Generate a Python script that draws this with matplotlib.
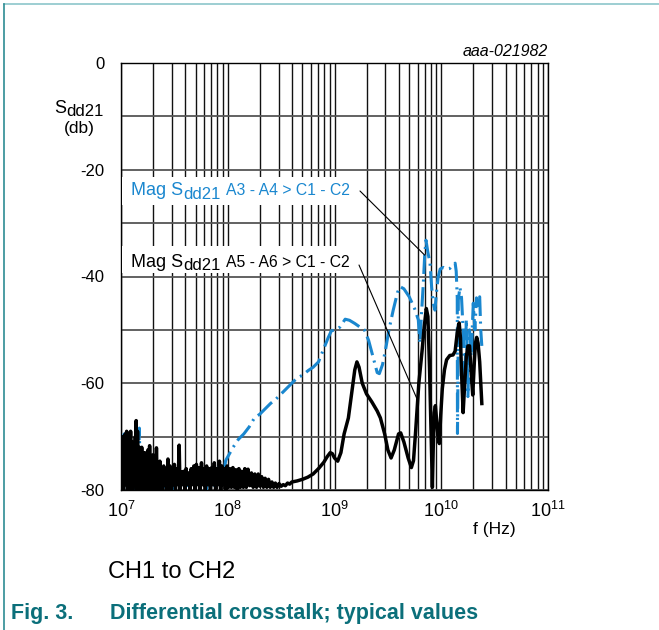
import matplotlib
matplotlib.use("Agg")
import matplotlib.pyplot as plt
import numpy as np
from matplotlib.patches import Rectangle, ConnectionPatch
from matplotlib.ticker import LogLocator, FixedLocator, LogFormatterSciNotation, NullFormatter

plt.rcParams['font.family'] = ['Liberation Sans', 'DejaVu Sans']
plt.rcParams['mathtext.fontset'] = 'custom'
plt.rcParams['mathtext.rm'] = 'Liberation Sans'
plt.rcParams['axes.unicode_minus'] = False
plt.rcParams['lines.scale_dashes'] = False

W, H = 659, 630
TEAL = '#0b6f7a'
BLUE = '#1a87cf'

# ---- data (log10 of frequency in Hz, dB) ----
# A5 - A6 > C1 - C2 (black, solid)
black_logf = [
    7.000, 7.004, 7.008, 7.014, 7.020, 7.027, 7.033, 7.040, 7.046, 7.053,
    7.060, 7.066, 7.072, 7.078, 7.084, 7.090, 7.096, 7.103, 7.110, 7.120,
    7.128, 7.134, 7.138, 7.142, 7.148, 7.155, 7.161, 7.168, 7.175, 7.182,
    7.188, 7.194, 7.200, 7.208, 7.215, 7.222, 7.230, 7.237, 7.244, 7.252,
    7.260, 7.268, 7.276, 7.284, 7.292, 7.300, 7.308, 7.316, 7.324, 7.332,
    7.340, 7.348, 7.356, 7.364, 7.372, 7.380, 7.390, 7.400, 7.410, 7.420,
    7.430, 7.440, 7.450, 7.460, 7.470, 7.480, 7.490, 7.500, 7.510, 7.522,
    7.534, 7.545, 7.553, 7.562, 7.574, 7.586, 7.598, 7.610, 7.622, 7.634,
    7.646, 7.658, 7.670, 7.682, 7.694, 7.706, 7.718, 7.730, 7.742, 7.754,
    7.766, 7.778, 7.790, 7.802, 7.814, 7.826, 7.838, 7.850, 7.862, 7.874,
    7.886, 7.898, 7.910, 7.922, 7.934, 7.946, 7.958, 7.970, 7.982, 7.994,
    8.006, 8.020, 8.034, 8.048, 8.062, 8.076, 8.090, 8.104, 8.118, 8.132,
    8.146, 8.160, 8.174, 8.190, 8.206, 8.222, 8.238, 8.254, 8.270, 8.286,
    8.302, 8.318, 8.334, 8.350, 8.366, 8.382, 8.398, 8.414, 8.430, 8.446,
    8.462, 8.480, 8.500, 8.520, 8.540, 8.560, 8.580, 8.600,
    8.65, 8.70, 8.75, 8.80, 8.85, 8.90, 8.93, 8.96, 8.98, 9.00,
    9.03, 9.06, 9.09, 9.11, 9.13, 9.16, 9.19, 9.21, 9.23, 9.26,
    9.30, 9.35, 9.40, 9.43, 9.47, 9.50, 9.53, 9.56, 9.60, 9.62,
    9.65, 9.69, 9.72, 9.74, 9.76, 9.79, 9.82, 9.84, 9.86, 9.875,
    9.89, 9.905, 9.917, 9.925, 9.935, 9.945, 9.955, 9.97, 9.982, 9.995,
    10.01, 10.03, 10.05, 10.08, 10.11, 10.13, 10.15, 10.168, 10.18, 10.19,
    10.205, 10.22, 10.235, 10.25, 10.265, 10.28, 10.295, 10.31, 10.32, 10.332,
    10.345, 10.36, 10.38,
]
black_db = [
    -80, -70, -79, -71, -80, -70, -78, -69.5, -79, -69,
    -80, -70, -78, -72, -80, -69, -79, -71, -80, -73,
    -78, -70, -79, -67, -80, -69, -78, -72, -80, -73,
    -79, -72, -80, -74, -79, -73, -80, -73.5, -79, -72.5,
    -80, -71.7, -79, -74, -80, -73.4, -79, -74.5, -80, -72.1,
    -79, -75, -80, -74.6, -79, -76, -80, -75.5, -79, -76,
    -80, -74.2, -79, -75.5, -80, -76, -79, -75.2, -80, -76,
    -79, -71.6, -80, -76.6, -79, -76.5, -80, -76, -79, -76.8,
    -80, -76, -79, -75.5, -80, -75.2, -79, -75.8, -80, -74.9,
    -79, -76, -80, -75.5, -79, -76, -80, -75.8, -79, -74.9,
    -80, -76, -79, -74.6, -80, -75.5, -79, -76, -80, -75.5,
    -79.5, -76, -79.5, -75.8, -79.5, -76.2, -80, -76, -79.5, -76.5,
    -79.5, -76, -79.5, -76.1, -79.2, -76.8, -79.5, -77, -79.5, -77,
    -79.3, -77.5, -79.5, -77.8, -79.5, -78, -79.5, -78.5, -79.5, -78.7,
    -79.5, -78.8, -79.3, -79, -79.2, -78.7, -78.9, -78.5,
    -78.3, -78.0, -77.6, -77.0, -76.0, -74.8, -73.8, -73.0, -73.2, -74.0,
    -74.6, -73.0, -69.5, -68.0, -66.5, -62.0, -57.5, -56.0, -57.0, -60.0,
    -62.0, -63.5, -65.2, -66.5, -69.5, -72.5, -74.0, -72.5, -69.5, -69.3,
    -71.0, -74.0, -75.8, -74.5, -69.0, -60.0, -54.0, -49.5, -46.0, -47.5,
    -57.0, -70.0, -79.5, -72.0, -65.5, -64.2, -66.5, -70.0, -71.3, -66.0,
    -61.0, -57.5, -55.6, -54.8, -54.7, -54.0, -50.5, -48.7, -51.5, -58.0,
    -65.5, -60.0, -55.0, -53.0, -53.0, -58.0, -62.2, -56.0, -52.5, -51.4,
    -52.5, -56.0, -63.8,
]

# A3 - A4 > C1 - C2 (blue, dash-dot)
blue_logf = [
    7.000, 7.003, 7.008, 7.015, 7.022, 7.030, 7.040, 7.050, 7.060, 7.075,
    7.090, 7.105, 7.120, 7.140, 7.160, 7.172, 7.180, 7.195, 7.210, 7.240,
    7.270, 7.300, 7.330, 7.360, 7.400, 7.440, 7.480, 7.520, 7.560, 7.600,
    7.640, 7.680, 7.720, 7.760, 7.800, 7.840, 7.880, 7.920, 7.950, 7.970,
    7.98, 8.05, 8.10, 8.15, 8.20, 8.25, 8.30, 8.35, 8.40, 8.45,
    8.50, 8.55, 8.60, 8.65, 8.70, 8.755, 8.80, 8.85, 8.88, 8.91,
    8.94, 8.97, 9.00, 9.05, 9.10, 9.14, 9.19, 9.24, 9.28, 9.32,
    9.36, 9.40, 9.42, 9.45, 9.48, 9.51, 9.55, 9.59, 9.614, 9.65,
    9.70, 9.75, 9.785, 9.80, 9.815, 9.832, 9.845, 9.857, 9.875, 9.895,
    9.91, 9.925, 9.941, 9.955, 9.972, 9.99, 10.02, 10.05, 10.08, 10.10,
    10.13, 10.14, 10.15, 10.152, 10.156, 10.16, 10.175, 10.19, 10.205, 10.22,
    10.235, 10.25, 10.265, 10.28, 10.30, 10.315, 10.33, 10.345, 10.36, 10.37,
    10.38,
]
blue_db = [
    -80, -70, -78, -70, -79, -69.5, -78, -70, -80, -72,
    -79, -72, -80, -70, -79, -68.4, -79, -73, -80, -74,
    -79, -75, -80, -76, -79.5, -75, -80, -76, -79.5, -76.5,
    -80, -76, -79.5, -75.5, -80, -76, -79.5, -75.5, -78, -76,
    -74.5, -72.0, -70.5, -69.5, -68.2, -66.5, -65.8, -64.8, -63.8, -63.0,
    -62.0, -61.0, -60.0, -59.0, -58.5, -57.6, -57.0, -56.0, -54.5, -53.0,
    -51.5, -50.2, -50.0, -49.5, -48.0, -48.2, -48.8, -49.5, -50.0, -52.0,
    -55.0, -58.0, -58.2, -56.5, -53.5, -50.0, -46.3, -43.0, -41.9, -42.3,
    -43.8, -46.0, -48.1, -52.5, -47.0, -41.3, -36.0, -33.2, -35.5, -37.5,
    -42.0, -45.0, -46.3, -43.0, -40.0, -38.6, -38.3, -38.6, -38.5, -38.0,
    -37.5, -39.0, -44.0, -69.4, -60.0, -44.4, -42.0, -44.0, -50.0, -60.0,
    -48.0, -62.5, -50.0, -55.0, -45.0, -50.0, -44.0, -46.0, -43.8, -50.0,
    -53.0,
]

y_major = [0, -20, -40, -60, -80]
y_minor = [-10, -30, -50, -70]

fig = plt.figure(figsize=(W / 100, H / 100), dpi=100)
ax = fig.add_axes([121 / W, (H - 490) / H, 427 / W, 427 / H])

ax.plot(10 ** np.array(blue_logf), blue_db, color=BLUE, lw=2.2,
        dashes=(14, 4, 1.5, 4), zorder=3)
ax.plot(10 ** np.array(black_logf), black_db, color='black', lw=2.5, zorder=4)

ax.set_xscale('log')
ax.set_xlim(1e7, 1e11)
ax.set_ylim(-80, 0)
ax.xaxis.set_major_locator(LogLocator(base=10, numticks=10))
ax.xaxis.set_minor_locator(LogLocator(base=10, subs=np.arange(2, 10), numticks=50))
ax.xaxis.set_major_formatter(LogFormatterSciNotation())
ax.xaxis.set_minor_formatter(NullFormatter())
ax.yaxis.set_major_locator(FixedLocator(y_major))
ax.yaxis.set_minor_locator(FixedLocator(y_minor))
ax.grid(which='both', axis='x', color='#111111', lw=1.0)
ax.grid(which='both', axis='y', color='#555555', lw=1.3)
ax.set_axisbelow(True)
ax.tick_params(which='both', length=0)
ax.tick_params(axis='y', pad=12, labelsize=12)
ax.tick_params(axis='x', pad=8, labelsize=13)
for s in ax.spines.values():
    s.set_color('black')
    s.set_linewidth(1.0)

renderer = fig.canvas.get_renderer()


def fx(px):
    return px / W


def fy(py):
    return 1 - py / H


def runs(x, y, parts, color):
    # draw text pieces side by side; parts = (text, size, dy_px, gap_px)
    for s, size, dy, gap in parts:
        x += gap
        t = fig.text(fx(x), fy(y + dy), s, fontsize=size, color=color,
                     ha='left', va='baseline', zorder=6)
        x += t.get_window_extent(renderer).width
    return x


# white boxes behind the curve labels
fig.add_artist(Rectangle((fx(122), fy(205)), (366 - 122) / W, 28 / H,
                         transform=fig.transFigure, fc='white', ec='none', zorder=5))
fig.add_artist(Rectangle((fx(122), fy(273)), (366 - 122) / W, 27 / H,
                         transform=fig.transFigure, fc='white', ec='none', zorder=5))

runs(131, 195, [("Mag S", 13, 0, 0), ("dd21", 12, 4, 0),
                ("A3 - A4 > C1 - C2", 11.3, 0, 5)], BLUE)
runs(131, 267, [("Mag S", 13, 0, 0), ("dd21", 12, 3, 0),
                ("A5 - A6 > C1 - C2", 11.3, 0, 5)], 'black')

fig.add_artist(ConnectionPatch(xyA=(360, H - 191), coordsA='figure pixels',
                               xyB=(10 ** 9.845, -36.0), coordsB=ax.transData,
                               color='black', lw=0.8, zorder=6))
fig.add_artist(ConnectionPatch(xyA=(359, H - 265), coordsA='figure pixels',
                               xyB=(10 ** 9.77, -62.8), coordsB=ax.transData,
                               color='black', lw=0.8, zorder=6))

# axis titles
runs(54, 113, [("S", 13, 0, 0), ("dd21", 12, 3, 0)], 'black')
fig.text(fx(79), fy(133), "(db)", fontsize=12.5, ha='center', va='baseline')
fig.text(fx(494), fy(534), "f (Hz)", fontsize=12.5, ha='center', va='baseline')
fig.text(fx(548), fy(56), "aaa-021982", fontsize=11.5, style='italic',
         ha='right', va='baseline')

# caption
fig.text(fx(108), fy(578), "CH1 to CH2", fontsize=17, ha='left', va='baseline')
fig.text(fx(11), fy(619), "Fig. 3.", fontsize=15.5, fontweight='bold',
         color=TEAL, ha='left', va='baseline')
fig.text(fx(110), fy(619), "Differential crosstalk; typical values", fontsize=15.5,
         fontweight='bold', color=TEAL, ha='left', va='baseline')

# page border lines
fig.add_artist(plt.Line2D([fx(4), 1], [fy(4), fy(4)], color='#8cc6cb', lw=1.2))
fig.add_artist(plt.Line2D([fx(4), fx(4)], [fy(4), 0], color='#2e8c93', lw=1.2))

fig.savefig('out.png', dpi=100)
